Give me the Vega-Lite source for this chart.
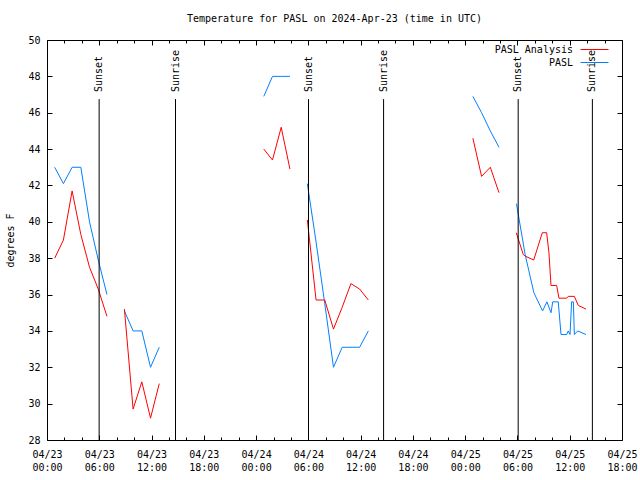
{
  "$schema": "https://vega.github.io/schema/vega-lite/v6.json",
  "width": 575,
  "height": 400,
  "autosize": {"type": "none"},
  "padding": {"left": 47, "top": 40, "right": 18, "bottom": 40},
  "background": "white",
  "title": {
    "text": "Temperature for PASL on 2024-Apr-23 (time in UTC)",
    "font": "DejaVu Sans Mono",
    "fontSize": 10,
    "fontWeight": "normal",
    "color": "black",
    "anchor": "middle",
    "offset": 11
  },
  "config": {
    "view": {"stroke": "black", "strokeWidth": 1},
    "font": "DejaVu Sans Mono",
    "axis": {
      "labelFont": "DejaVu Sans Mono",
      "labelFontSize": 10,
      "titleFont": "DejaVu Sans Mono",
      "titleFontSize": 10,
      "titleFontWeight": "normal",
      "labelColor": "black",
      "titleColor": "black",
      "tickColor": "black",
      "domain": false,
      "grid": false
    }
  },
  "resolve": {"axis": {"x": "independent", "y": "independent"}},
  "layer": [
    {
      "data": {
        "values": [
          {"t": "2024-04-23T00:53:00Z", "temp": 43.0, "series": "PASL", "seg": "b1"},
          {"t": "2024-04-23T01:53:00Z", "temp": 42.1, "series": "PASL", "seg": "b1"},
          {"t": "2024-04-23T02:53:00Z", "temp": 43.0, "series": "PASL", "seg": "b1"},
          {"t": "2024-04-23T03:53:00Z", "temp": 43.0, "series": "PASL", "seg": "b1"},
          {"t": "2024-04-23T04:53:00Z", "temp": 40.0, "series": "PASL", "seg": "b1"},
          {"t": "2024-04-23T05:53:00Z", "temp": 37.9, "series": "PASL", "seg": "b1"},
          {"t": "2024-04-23T06:53:00Z", "temp": 36.0, "series": "PASL", "seg": "b1"},
          {"t": "2024-04-23T08:53:00Z", "temp": 35.1, "series": "PASL", "seg": "b2"},
          {"t": "2024-04-23T09:53:00Z", "temp": 34.0, "series": "PASL", "seg": "b2"},
          {"t": "2024-04-23T10:53:00Z", "temp": 34.0, "series": "PASL", "seg": "b2"},
          {"t": "2024-04-23T11:53:00Z", "temp": 32.0, "series": "PASL", "seg": "b2"},
          {"t": "2024-04-23T12:53:00Z", "temp": 33.1, "series": "PASL", "seg": "b2"},
          {"t": "2024-04-24T00:53:00Z", "temp": 46.9, "series": "PASL", "seg": "b3"},
          {"t": "2024-04-24T01:53:00Z", "temp": 48.0, "series": "PASL", "seg": "b3"},
          {"t": "2024-04-24T02:53:00Z", "temp": 48.0, "series": "PASL", "seg": "b3"},
          {"t": "2024-04-24T03:53:00Z", "temp": 48.0, "series": "PASL", "seg": "b3"},
          {"t": "2024-04-24T05:53:00Z", "temp": 42.1, "series": "PASL", "seg": "b4"},
          {"t": "2024-04-24T06:53:00Z", "temp": 38.9, "series": "PASL", "seg": "b4"},
          {"t": "2024-04-24T07:53:00Z", "temp": 35.5, "series": "PASL", "seg": "b4"},
          {"t": "2024-04-24T08:53:00Z", "temp": 32.0, "series": "PASL", "seg": "b4"},
          {"t": "2024-04-24T09:53:00Z", "temp": 33.1, "series": "PASL", "seg": "b4"},
          {"t": "2024-04-24T10:53:00Z", "temp": 33.1, "series": "PASL", "seg": "b4"},
          {"t": "2024-04-24T11:53:00Z", "temp": 33.1, "series": "PASL", "seg": "b4"},
          {"t": "2024-04-24T12:53:00Z", "temp": 34.0, "series": "PASL", "seg": "b4"},
          {"t": "2024-04-25T00:53:00Z", "temp": 46.9, "series": "PASL", "seg": "b5"},
          {"t": "2024-04-25T01:53:00Z", "temp": 46.0, "series": "PASL", "seg": "b5"},
          {"t": "2024-04-25T02:53:00Z", "temp": 45.0, "series": "PASL", "seg": "b5"},
          {"t": "2024-04-25T03:53:00Z", "temp": 44.1, "series": "PASL", "seg": "b5"},
          {"t": "2024-04-25T05:53:00Z", "temp": 41.0, "series": "PASL", "seg": "b6"},
          {"t": "2024-04-25T06:53:00Z", "temp": 38.2, "series": "PASL", "seg": "b6"},
          {"t": "2024-04-25T07:53:00Z", "temp": 36.1, "series": "PASL", "seg": "b6"},
          {"t": "2024-04-25T08:53:00Z", "temp": 35.1, "series": "PASL", "seg": "b6"},
          {"t": "2024-04-25T09:23:00Z", "temp": 35.6, "series": "PASL", "seg": "b6"},
          {"t": "2024-04-25T09:51:00Z", "temp": 35.0, "series": "PASL", "seg": "b6"},
          {"t": "2024-04-25T10:03:00Z", "temp": 35.6, "series": "PASL", "seg": "b6"},
          {"t": "2024-04-25T10:41:00Z", "temp": 35.6, "series": "PASL", "seg": "b6"},
          {"t": "2024-04-25T11:00:00Z", "temp": 33.8, "series": "PASL", "seg": "b6"},
          {"t": "2024-04-25T11:39:00Z", "temp": 33.8, "series": "PASL", "seg": "b6"},
          {"t": "2024-04-25T11:50:00Z", "temp": 34.0, "series": "PASL", "seg": "b6"},
          {"t": "2024-04-25T12:02:00Z", "temp": 33.8, "series": "PASL", "seg": "b6"},
          {"t": "2024-04-25T12:13:00Z", "temp": 35.6, "series": "PASL", "seg": "b6"},
          {"t": "2024-04-25T12:25:00Z", "temp": 35.6, "series": "PASL", "seg": "b6"},
          {"t": "2024-04-25T12:32:00Z", "temp": 33.8, "series": "PASL", "seg": "b6"},
          {"t": "2024-04-25T12:55:00Z", "temp": 34.0, "series": "PASL", "seg": "b6"},
          {"t": "2024-04-25T13:52:00Z", "temp": 33.8, "series": "PASL", "seg": "b6"},
          {"t": "2024-04-23T00:53:00Z", "temp": 38.0, "series": "PASL Analysis", "seg": "r1"},
          {"t": "2024-04-23T01:53:00Z", "temp": 39.0, "series": "PASL Analysis", "seg": "r1"},
          {"t": "2024-04-23T02:53:00Z", "temp": 41.7, "series": "PASL Analysis", "seg": "r1"},
          {"t": "2024-04-23T03:53:00Z", "temp": 39.3, "series": "PASL Analysis", "seg": "r1"},
          {"t": "2024-04-23T04:53:00Z", "temp": 37.5, "series": "PASL Analysis", "seg": "r1"},
          {"t": "2024-04-23T05:53:00Z", "temp": 36.3, "series": "PASL Analysis", "seg": "r1"},
          {"t": "2024-04-23T06:53:00Z", "temp": 34.8, "series": "PASL Analysis", "seg": "r1"},
          {"t": "2024-04-23T08:53:00Z", "temp": 35.2, "series": "PASL Analysis", "seg": "r2"},
          {"t": "2024-04-23T09:53:00Z", "temp": 29.7, "series": "PASL Analysis", "seg": "r2"},
          {"t": "2024-04-23T10:53:00Z", "temp": 31.2, "series": "PASL Analysis", "seg": "r2"},
          {"t": "2024-04-23T11:53:00Z", "temp": 29.2, "series": "PASL Analysis", "seg": "r2"},
          {"t": "2024-04-23T12:53:00Z", "temp": 31.1, "series": "PASL Analysis", "seg": "r2"},
          {"t": "2024-04-24T00:53:00Z", "temp": 44.0, "series": "PASL Analysis", "seg": "r3"},
          {"t": "2024-04-24T01:53:00Z", "temp": 43.4, "series": "PASL Analysis", "seg": "r3"},
          {"t": "2024-04-24T02:53:00Z", "temp": 45.2, "series": "PASL Analysis", "seg": "r3"},
          {"t": "2024-04-24T03:53:00Z", "temp": 42.9, "series": "PASL Analysis", "seg": "r3"},
          {"t": "2024-04-24T05:53:00Z", "temp": 40.1, "series": "PASL Analysis", "seg": "r4"},
          {"t": "2024-04-24T06:53:00Z", "temp": 35.7, "series": "PASL Analysis", "seg": "r4"},
          {"t": "2024-04-24T07:53:00Z", "temp": 35.7, "series": "PASL Analysis", "seg": "r4"},
          {"t": "2024-04-24T08:53:00Z", "temp": 34.1, "series": "PASL Analysis", "seg": "r4"},
          {"t": "2024-04-24T09:53:00Z", "temp": 35.3, "series": "PASL Analysis", "seg": "r4"},
          {"t": "2024-04-24T10:53:00Z", "temp": 36.6, "series": "PASL Analysis", "seg": "r4"},
          {"t": "2024-04-24T11:53:00Z", "temp": 36.3, "series": "PASL Analysis", "seg": "r4"},
          {"t": "2024-04-24T12:53:00Z", "temp": 35.7, "series": "PASL Analysis", "seg": "r4"},
          {"t": "2024-04-25T00:53:00Z", "temp": 44.6, "series": "PASL Analysis", "seg": "r5"},
          {"t": "2024-04-25T01:53:00Z", "temp": 42.5, "series": "PASL Analysis", "seg": "r5"},
          {"t": "2024-04-25T02:53:00Z", "temp": 43.0, "series": "PASL Analysis", "seg": "r5"},
          {"t": "2024-04-25T03:53:00Z", "temp": 41.6, "series": "PASL Analysis", "seg": "r5"},
          {"t": "2024-04-25T05:52:00Z", "temp": 39.4, "series": "PASL Analysis", "seg": "r6"},
          {"t": "2024-04-25T06:40:00Z", "temp": 38.2, "series": "PASL Analysis", "seg": "r6"},
          {"t": "2024-04-25T06:57:00Z", "temp": 38.1, "series": "PASL Analysis", "seg": "r6"},
          {"t": "2024-04-25T07:52:00Z", "temp": 37.9, "series": "PASL Analysis", "seg": "r6"},
          {"t": "2024-04-25T08:51:00Z", "temp": 39.4, "series": "PASL Analysis", "seg": "r6"},
          {"t": "2024-04-25T09:21:00Z", "temp": 39.4, "series": "PASL Analysis", "seg": "r6"},
          {"t": "2024-04-25T09:37:00Z", "temp": 38.3, "series": "PASL Analysis", "seg": "r6"},
          {"t": "2024-04-25T09:51:00Z", "temp": 36.5, "series": "PASL Analysis", "seg": "r6"},
          {"t": "2024-04-25T10:30:00Z", "temp": 36.5, "series": "PASL Analysis", "seg": "r6"},
          {"t": "2024-04-25T10:46:00Z", "temp": 35.8, "series": "PASL Analysis", "seg": "r6"},
          {"t": "2024-04-25T11:39:00Z", "temp": 35.8, "series": "PASL Analysis", "seg": "r6"},
          {"t": "2024-04-25T11:50:00Z", "temp": 35.9, "series": "PASL Analysis", "seg": "r6"},
          {"t": "2024-04-25T12:32:00Z", "temp": 35.9, "series": "PASL Analysis", "seg": "r6"},
          {"t": "2024-04-25T12:59:00Z", "temp": 35.4, "series": "PASL Analysis", "seg": "r6"},
          {"t": "2024-04-25T13:52:00Z", "temp": 35.2, "series": "PASL Analysis", "seg": "r6"}
        ]
      },
      "mark": {"type": "line", "strokeWidth": 1, "clip": true},
      "encoding": {
        "x": {
          "field": "t",
          "type": "temporal",
          "scale": {
            "type": "utc",
            "domain": [1713830400000, 1714068000000]
          },
          "axis": {
            "title": null,
            "values": [1713830400000, 1713837600000, 1713844800000, 1713852000000, 1713859200000, 1713866400000, 1713873600000, 1713880800000, 1713888000000, 1713895200000, 1713902400000, 1713909600000, 1713916800000, 1713924000000, 1713931200000, 1713938400000, 1713945600000, 1713952800000, 1713960000000, 1713967200000, 1713974400000, 1713981600000, 1713988800000, 1713996000000, 1714003200000, 1714010400000, 1714017600000, 1714024800000, 1714032000000, 1714039200000, 1714046400000, 1714053600000, 1714060800000, 1714068000000],
            "labelExpr": "utchours(datum.value) % 6 === 0 ? [utcFormat(datum.value, '%m/%d'), utcFormat(datum.value, '%H:%M')] : ''",
            "tickSize": {"condition": {"test": "utchours(datum.value) % 6 === 0", "value": -5}, "value": -3},
            "labelPadding": 14,
            "labelOverlap": false,
            "labelFlush": false,
            "labelAngle": 0,
            "labelAlign": "center",
            "labelBaseline": "top",
            "labelLineHeight": 13
          }
        },
        "y": {
          "field": "temp",
          "type": "quantitative",
          "scale": {"domain": [28, 50], "nice": false, "zero": false},
          "axis": {
            "title": "degrees F",
            "values": [28, 30, 32, 34, 36, 38, 40, 42, 44, 46, 48, 50],
            "tickSize": -5,
            "labelPadding": 12,
            "titlePadding": 12
          }
        },
        "color": {
          "field": "series",
          "type": "nominal",
          "scale": {"domain": ["PASL Analysis", "PASL"], "range": ["#ff0000", "#0080ff"]},
          "legend": {
            "orient": "none",
            "legendX": 540,
            "legendY": 2,
            "title": null,
            "symbolType": "M-2,0H2",
            "symbolSize": 196,
            "symbolStrokeWidth": 1,
            "labelAlign": "right",
            "labelOffset": -29,
            "labelFont": "DejaVu Sans Mono",
            "labelFontSize": 10,
            "labelColor": "black",
            "rowPadding": 0,
            "padding": 0,
            "encode": {
              "symbols": {
                "update": {
                  "stroke": {"scale": "color", "field": "value"},
                  "strokeWidth": {"value": 1}
                }
              }
            }
          }
        },
        "detail": {"field": "seg"}
      }
    },
    {
      "data": {
        "values": [
          {"t": "2024-04-23T05:59:00Z", "label": "Sunset"},
          {"t": "2024-04-23T14:45:00Z", "label": "Sunrise"},
          {"t": "2024-04-24T06:01:00Z", "label": "Sunset"},
          {"t": "2024-04-24T14:38:00Z", "label": "Sunrise"},
          {"t": "2024-04-25T06:05:00Z", "label": "Sunset"},
          {"t": "2024-04-25T14:36:00Z", "label": "Sunrise"}
        ]
      },
      "mark": {"type": "rule", "color": "black", "strokeWidth": 1},
      "encoding": {
        "x": {
          "field": "t",
          "type": "temporal",
          "axis": {
            "orient": "top",
            "title": null,
            "labels": false,
            "values": [1713830400000, 1713837600000, 1713844800000, 1713852000000, 1713859200000, 1713866400000, 1713873600000, 1713880800000, 1713888000000, 1713895200000, 1713902400000, 1713909600000, 1713916800000, 1713924000000, 1713931200000, 1713938400000, 1713945600000, 1713952800000, 1713960000000, 1713967200000, 1713974400000, 1713981600000, 1713988800000, 1713996000000, 1714003200000, 1714010400000, 1714017600000, 1714024800000, 1714032000000, 1714039200000, 1714046400000, 1714053600000, 1714060800000, 1714068000000],
            "tickSize": {"condition": {"test": "utchours(datum.value) % 6 === 0", "value": -5}, "value": -3}
          }
        },
        "y": {
          "datum": 28,
          "type": "quantitative",
          "axis": {
            "orient": "right",
            "title": null,
            "labels": false,
            "values": [28, 30, 32, 34, 36, 38, 40, 42, 44, 46, 48, 50],
            "tickSize": -5
          }
        },
        "y2": {"datum": 46.75}
      }
    },
    {
      "data": {
        "values": [
          {"t": "2024-04-23T05:59:00Z", "label": "Sunset"},
          {"t": "2024-04-23T14:45:00Z", "label": "Sunrise"},
          {"t": "2024-04-24T06:01:00Z", "label": "Sunset"},
          {"t": "2024-04-24T14:38:00Z", "label": "Sunrise"},
          {"t": "2024-04-25T06:05:00Z", "label": "Sunset"},
          {"t": "2024-04-25T14:36:00Z", "label": "Sunrise"}
        ]
      },
      "mark": {"type": "text", "angle": 270, "align": "left", "baseline": "middle", "font": "DejaVu Sans Mono", "fontSize": 10, "color": "black"},
      "encoding": {
        "x": {"field": "t", "type": "temporal", "axis": null},
        "y": {"datum": 47.14, "type": "quantitative", "axis": null},
        "text": {"field": "label"}
      }
    }
  ]
}
